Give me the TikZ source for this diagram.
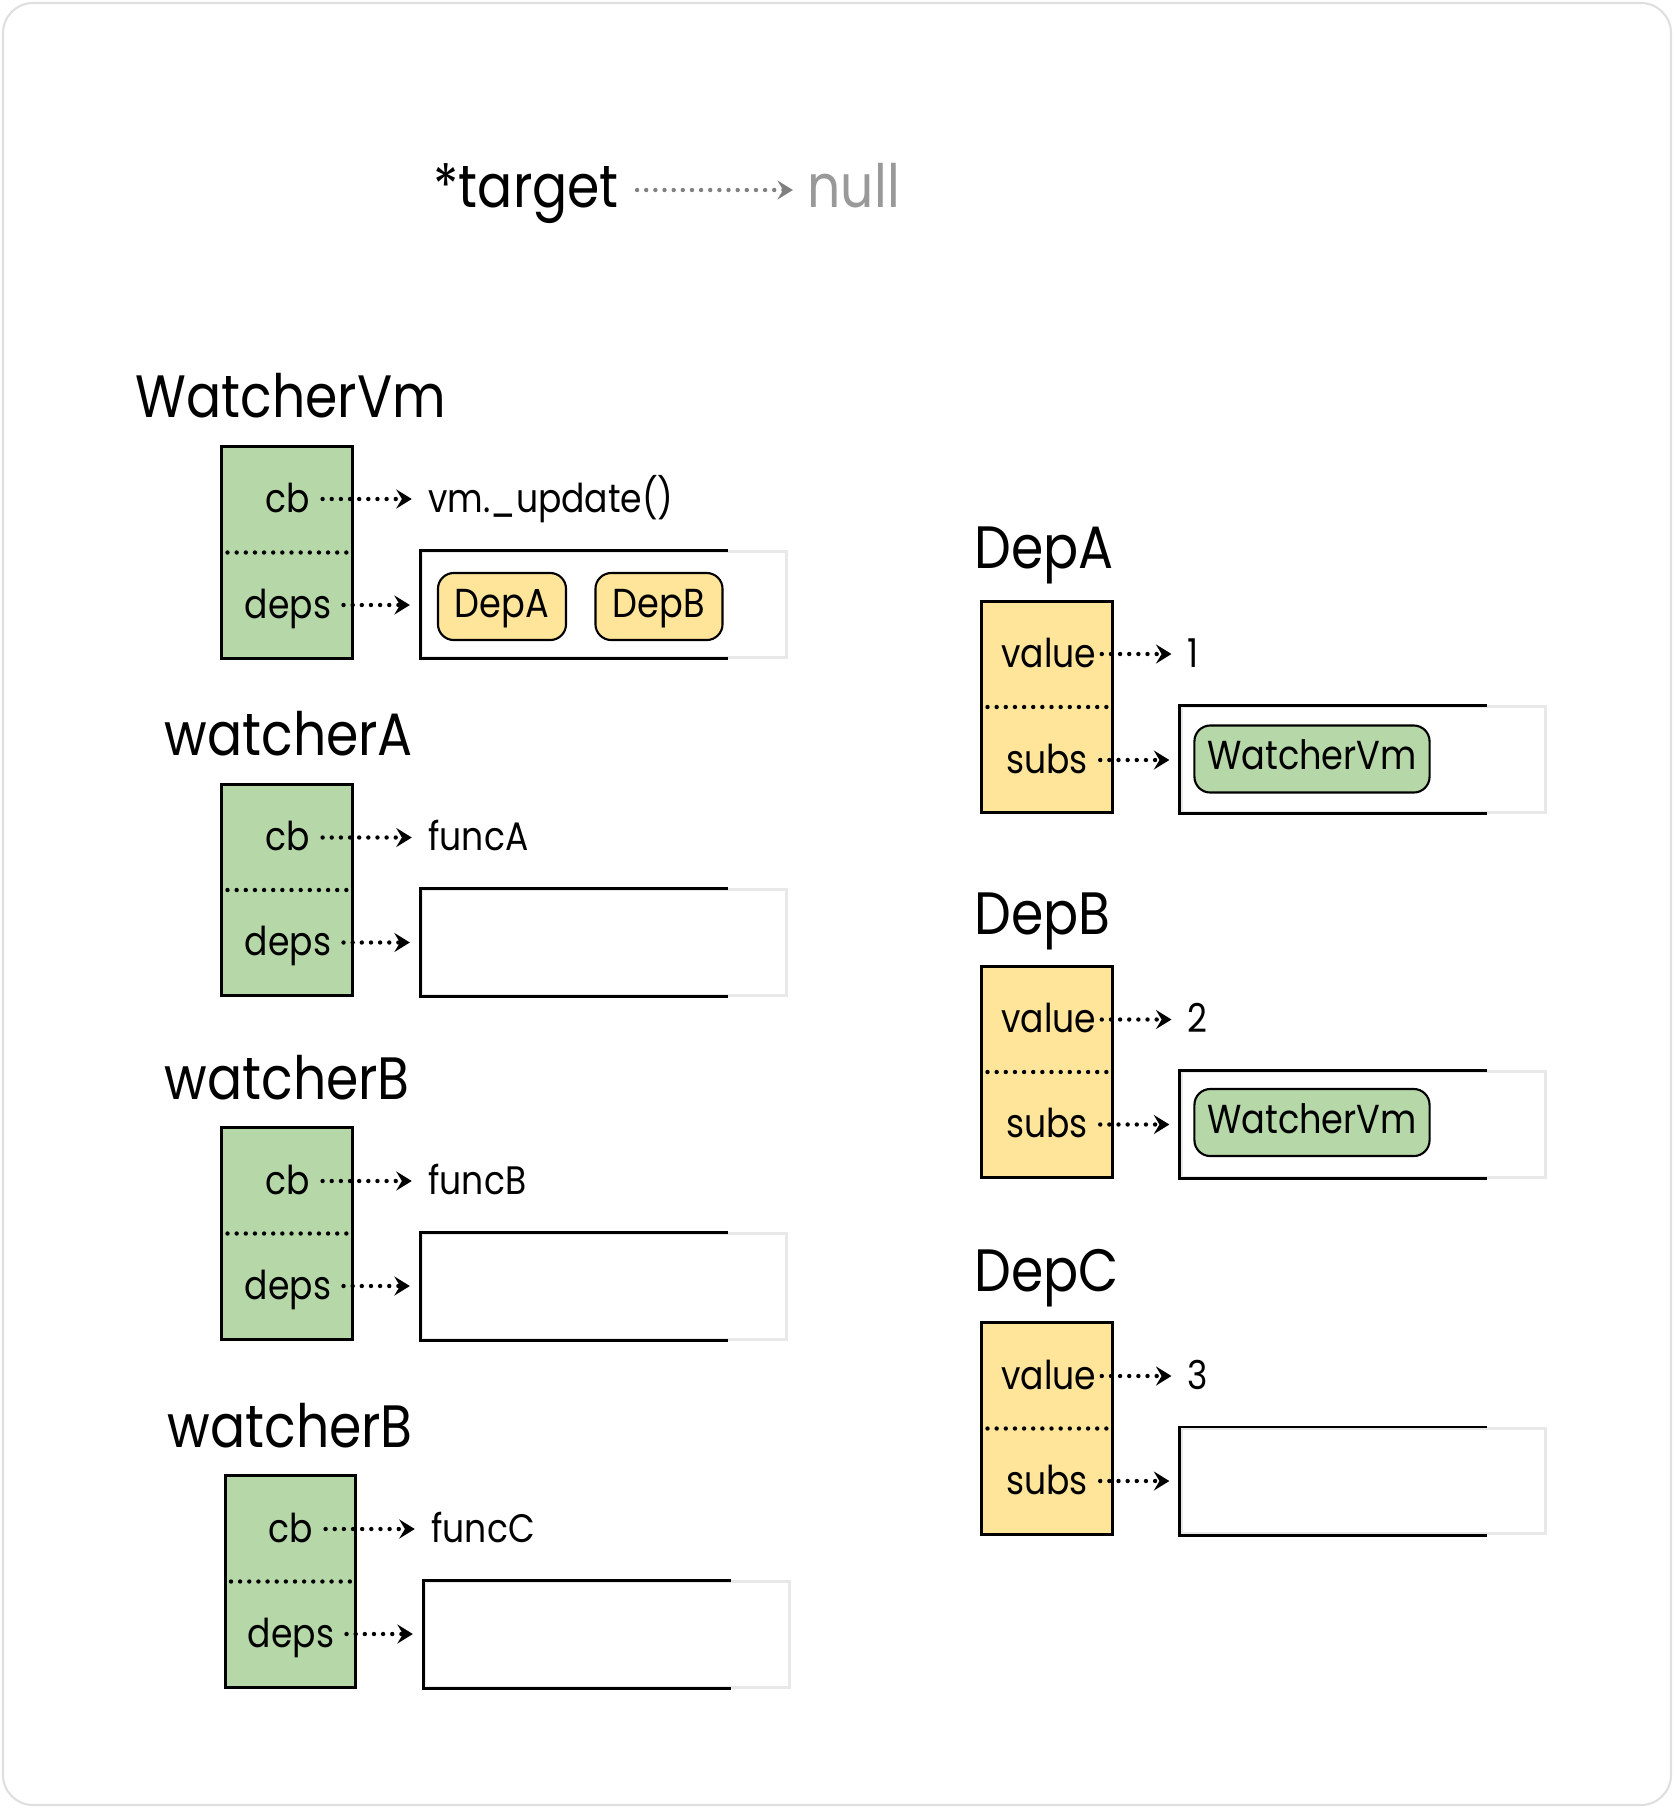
\documentclass[tikz,border=0pt]{standalone}
\usepackage{fontspec}
\setmainfont{Poppins}[FakeStretch=0.87]
\usetikzlibrary{positioning,arrows.meta}

\definecolor{grn}{HTML}{B6D7A8}
\definecolor{ylw}{HTML}{FFE599}

\begin{document}
\begin{tikzpicture}[
        x=0.01cm, y=-0.01cm,
        strct/.style={draw, line width=0.85pt, minimum width=1.3cm, minimum height=2.11cm, inner sep=0pt},
        fld/.style={font=\fontsize{11.3}{13}\selectfont, text height=9pt, text depth=1.5pt},
        ttl/.style={font=\fontsize{17}{20}\selectfont, anchor=base west, inner sep=0pt},
        pill/.style={draw, line width=0.6pt, rounded corners=4.5pt, inner sep=0pt,
            minimum height=0.67cm, font=\fontsize{11.5}{13}\selectfont, text height=7.5pt, text depth=1.5pt},
        lst/.style={draw=gray!18, line width=0.85pt, minimum width=3.64cm, minimum height=1.05cm, inner sep=0pt},
        lstedge/.style={line width=0.85pt},
        dvd/.style={line width=1.25pt, dash pattern=on 0pt off 2.6pt, line cap=round, shorten <=2pt},
        ptr/.style={line width=1.25pt, dash pattern=on 0pt off 2.6pt, line cap=round,
            -{Stealth[length=4.4pt,width=5.4pt,inset=1.6pt]}}
    ]
    \useasboundingbox (0,0) rectangle (1674,1808);
    \draw [gray!25, line width=0.6pt, rounded corners=0.3cm] (3,3) rectangle (1671,1805);

    % target
    \node (tgt) [ttl] at (433,207) {*target};
    \node (nul) [ttl, gray!80] at (807,207) {null};
    \draw [ptr, black!50, shorten <=5pt, shorten >=4pt] (tgt.east |- 0,190) -- (nul.west |- 0,190);

    % WatcherVm
    \node (wvm) [strct, fill=grn] at (287,552.5) {};
    \draw [dvd] (wvm.west) -- (wvm.east);
    \node (wvm-t)    [ttl] at (135,417) {WatcherVm};
    \node (wvm-cb)   [fld] at (288,499) {cb};
    \node (wvm-deps) [fld] at (288,605) {deps};
    \node (wvm-cbv)  [fld, anchor=west] at (416,499) {vm.\_update()};
    \node (wvm-lst)  [lst] at (604,604.5) {};
    \draw [lstedge] ([xshift=-0.6cm]wvm-lst.north east) -- (wvm-lst.north west)
        -- (wvm-lst.south west) -- ([xshift=-0.6cm]wvm-lst.south east);
    \node (wvm-da) [pill, fill=ylw, minimum width=1.28cm] at (502,606.5) {DepA};
    \node (wvm-db) [pill, fill=ylw, minimum width=1.27cm] at (659,606.5) {DepB};
    \draw [ptr, shorten >=1.2pt] (wvm-cb) -- (wvm-cbv);
    \draw [ptr, shorten >=3pt] (wvm-deps.east) -- (wvm-deps.east -| wvm-lst.west);

    % watcherA
    \node (wa) [strct, fill=grn] at (287,890) {};
    \draw [dvd] (wa.west) -- (wa.east);
    \node (wa-t)    [ttl] at (164,755) {watcherA};
    \node (wa-cb)   [fld] at (288,837.5) {cb};
    \node (wa-deps) [fld] at (288,942.5) {deps};
    \node (wa-cbv)  [fld, anchor=west] at (416,837.5) {funcA};
    \node (wa-lst)  [lst] at (604,942.5) {};
    \draw [lstedge] ([xshift=-0.6cm]wa-lst.north east) -- (wa-lst.north west)
        -- (wa-lst.south west) -- ([xshift=-0.6cm]wa-lst.south east);
    \draw [ptr, shorten >=1.2pt] (wa-cb) -- (wa-cbv);
    \draw [ptr, shorten >=3pt] (wa-deps.east) -- (wa-deps.east -| wa-lst.west);

    % watcherB
    \node (wb) [strct, fill=grn] at (287,1233.5) {};
    \draw [dvd] (wb.west) -- (wb.east);
    \node (wb-t)    [ttl] at (164,1099) {watcherB};
    \node (wb-cb)   [fld] at (288,1181) {cb};
    \node (wb-deps) [fld] at (288,1286) {deps};
    \node (wb-cbv)  [fld, anchor=west] at (416,1181) {funcB};
    \node (wb-lst)  [lst] at (604,1286.5) {};
    \draw [lstedge] ([xshift=-0.6cm]wb-lst.north east) -- (wb-lst.north west)
        -- (wb-lst.south west) -- ([xshift=-0.6cm]wb-lst.south east);
    \draw [ptr, shorten >=1.2pt] (wb-cb) -- (wb-cbv);
    \draw [ptr, shorten >=3pt] (wb-deps.east) -- (wb-deps.east -| wb-lst.west);

    % watcherB (second)
    \node (wc) [strct, fill=grn] at (290.5,1581.5) {};
    \draw [dvd] (wc.west) -- (wc.east);
    \node (wc-t)    [ttl] at (167,1447) {watcherB};
    \node (wc-cb)   [fld] at (291,1529) {cb};
    \node (wc-deps) [fld] at (291,1634) {deps};
    \node (wc-cbv)  [fld, anchor=west] at (419,1529) {funcC};
    \node (wc-lst)  [lst] at (607,1634.5) {};
    \draw [lstedge] ([xshift=-0.6cm]wc-lst.north east) -- (wc-lst.north west)
        -- (wc-lst.south west) -- ([xshift=-0.6cm]wc-lst.south east);
    \draw [ptr, shorten >=1.2pt] (wc-cb) -- (wc-cbv);
    \draw [ptr, shorten >=3pt] (wc-deps.east) -- (wc-deps.east -| wc-lst.west);

    % DepA
    \node (dpa) [strct, fill=ylw] at (1047,707) {};
    \draw [dvd] (dpa.west) -- (dpa.east);
    \node (dpa-t)    [ttl] at (974,568) {DepA};
    \node (dpa-val)  [fld] at (1049,654) {value};
    \node (dpa-subs) [fld] at (1047,760) {subs};
    \node (dpa-valv) [fld, anchor=west] at (1175,654) {1};
    \node (dpa-lst)  [lst] at (1363.5,759.5) {};
    \draw [lstedge] ([xshift=-0.6cm]dpa-lst.north east) -- (dpa-lst.north west)
        -- (dpa-lst.south west) -- ([xshift=-0.6cm]dpa-lst.south east);
    \node (dpa-w) [pill, fill=grn, minimum width=2.35cm] at (1312,759) {WatcherVm};
    \draw [ptr, shorten <=-2pt, shorten >=1pt] (dpa-val) -- (dpa-valv);
    \draw [ptr, shorten >=3pt] (dpa-subs.east) -- (dpa-subs.east -| dpa-lst.west);

    % DepB
    \node (dpb) [strct, fill=ylw] at (1047,1072) {};
    \draw [dvd] (dpb.west) -- (dpb.east);
    \node (dpb-t)    [ttl] at (974,934) {DepB};
    \node (dpb-val)  [fld] at (1049,1019.5) {value};
    \node (dpb-subs) [fld] at (1047,1124.5) {subs};
    \node (dpb-valv) [fld, anchor=west] at (1175,1019.5) {2};
    \node (dpb-lst)  [lst] at (1363.5,1124.5) {};
    \draw [lstedge] ([xshift=-0.6cm]dpb-lst.north east) -- (dpb-lst.north west)
        -- (dpb-lst.south west) -- ([xshift=-0.6cm]dpb-lst.south east);
    \node (dpb-w) [pill, fill=grn, minimum width=2.35cm] at (1312,1122.5) {WatcherVm};
    \draw [ptr, shorten <=-2pt, shorten >=1pt] (dpb-val) -- (dpb-valv);
    \draw [ptr, shorten >=3pt] (dpb-subs.east) -- (dpb-subs.east -| dpb-lst.west);

    % DepC
    \node (dpc) [strct, fill=ylw] at (1047,1428.5) {};
    \draw [dvd] (dpc.west) -- (dpc.east);
    \node (dpc-t)    [ttl] at (974,1291) {DepC};
    \node (dpc-val)  [fld] at (1049,1376) {value};
    \node (dpc-subs) [fld] at (1047,1481) {subs};
    \node (dpc-valv) [fld, anchor=west] at (1175,1376) {3};
    \node (dpc-lst)  [lst] at (1363.5,1481) {};
    \draw [lstedge] ([xshift=-0.6cm]dpc-lst.north east) -- (dpc-lst.north west)
        -- (dpc-lst.south west) -- ([xshift=-0.6cm]dpc-lst.south east);
    \draw [ptr, shorten <=-2pt, shorten >=1pt] (dpc-val) -- (dpc-valv);
    \draw [ptr, shorten >=3pt] (dpc-subs.east) -- (dpc-subs.east -| dpc-lst.west);
\end{tikzpicture}
\end{document}
